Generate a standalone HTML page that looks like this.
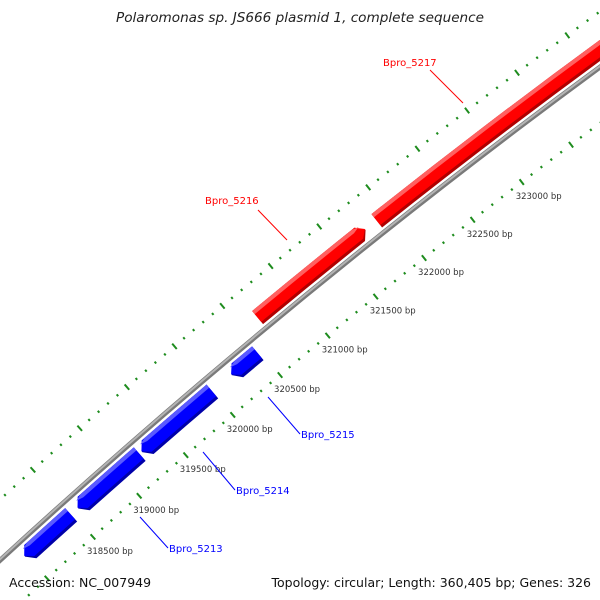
<!DOCTYPE html>
<html><head><meta charset="utf-8"><style>
html,body{margin:0;background:#fff;width:600px;height:600px;overflow:hidden}
svg{display:block}
text{font-family:"DejaVu Sans","Liberation Sans",sans-serif}
</style></head><body>
<svg id="map" width="600" height="600" viewBox="0 0 600 600" xmlns="http://www.w3.org/2000/svg" overflow="hidden">
<rect width="600" height="600" fill="#fff"/>
<g id="ticks"></g>
<g id="backbone"></g>
<g id="genes"></g>
<g id="labels"></g>
<text x="116" y="22" font-size="13" font-style="italic" fill="#222" textLength="368" lengthAdjust="spacingAndGlyphs">Polaromonas sp. JS666 plasmid 1, complete sequence</text>
<text x="9" y="587" font-size="12.5" fill="#111">Accession: NC_007949</text>
<text x="591" y="587" font-size="12.5" fill="#111" text-anchor="end">Topology: circular; Length: 360,405 bp; Genes: 326</text>
</svg>
<script>
const geneNames=["Bpro_5213a","Bpro_5213","Bpro_5214","Bpro_5215","Bpro_5216","Bpro_5217"];
const geneStarts=[317986,318564,319250,320201,320657,321888];
const geneEnds=[318488,319225,319997,320475,321773,325200];
const geneStrands=[-1,-1,-1,-1,1,1];
const tickStart=317000, tickEnd=325500, tickStep=100, majorStep=500;
const labeled=[{name:"Bpro_5217",x:383,y:66,lx1:430,ly1:70,lx2:463,ly2:103,c:"#ff0000"},
{name:"Bpro_5216",x:205,y:204,lx1:258,ly1:210,lx2:287,ly2:240,c:"#ff0000"},
{name:"Bpro_5215",x:301,y:438,lx1:268,ly1:397,lx2:300,ly2:434,c:"#0000ff"},
{name:"Bpro_5214",x:236,y:494,lx1:203,ly1:452,lx2:235,ly2:490,c:"#0000ff"},
{name:"Bpro_5213",x:169,y:552,lx1:140,ly1:517,lx2:168,ly2:548,c:"#0000ff"}];
const NS="http://www.w3.org/2000/svg";
const CX=4828, CY=5822, TOTAL=360405;
const R_BACK=7141, R_UP=7186, R_LOW=7096;
function pt(bp,r){const t=2*Math.PI*bp/TOTAL;return [CX+r*Math.sin(t),CY-r*Math.cos(t)];}
function mk(tag,attrs,parent){const e=document.createElementNS(NS,tag);for(const k in attrs)e.setAttribute(k,attrs[k]);parent.appendChild(e);return e;}
function arcD(a,b,r){const p=pt(a,r),q=pt(b,r);return `M${p[0]} ${p[1]} A${r} ${r} 0 0 1 ${q[0]} ${q[1]}`;}
const bb=document.getElementById('backbone');
let e=mk('path',{d:arcD(315000,327000,R_BACK),stroke:"#7a7a7a","stroke-width":5,fill:"none"},bb);


e=mk('path',{d:arcD(315000,327000,R_BACK+0.8),stroke:"#b4b4b4","stroke-width":2,fill:"none"},bb);


const tg=document.getElementById('ticks');
for(let bp=tickStart;bp<=tickEnd;bp+=tickStep){
  const major=bp%majorStep===0;
  for(const r of [R_UP,R_LOW]){
    const h=major?3.5:1.2;
    const a=pt(bp,r-h),b=pt(bp,r+h);
    if(Math.max(a[1],b[1])>602||Math.min(a[1],b[1])<-2) continue;
    const ln=mk('line',{x1:a[0],y1:a[1],x2:b[0],y2:b[1],stroke:"#1e8c1e","stroke-width":2},tg);
    
    
  }
  if(major){
    const p=pt(bp,R_LOW);
    if(p[0]>-40&&p[0]<545&&p[1]>0&&p[1]<575){
      const t=mk('text',{x:p[0]-6,y:p[1]+17,"font-size":"8.5",fill:"#333"},tg);
      t.textContent=bp+" bp";
      
      
    }
  }
}
const gg=document.getElementById('genes');
function geneD(s,en,strand,rin,rout,rtip){
  const ah=60;
  if(strand>0){
    const e2=Math.max(s,en-ah);
    const t=pt(en,rtip),o1=pt(s,rout),o2=pt(e2,rout),i2=pt(e2,rin),i1=pt(s,rin);
    return `M${o1[0]} ${o1[1]} A${rout} ${rout} 0 0 1 ${o2[0]} ${o2[1]} L${t[0]} ${t[1]} L${i2[0]} ${i2[1]} A${rin} ${rin} 0 0 0 ${i1[0]} ${i1[1]} Z`;
  } else {
    const s2=Math.min(en,s+ah);
    const t=pt(s,rtip),o1=pt(s2,rout),o2=pt(en,rout),i2=pt(en,rin),i1=pt(s2,rin);
    return `M${t[0]} ${t[1]} L${o1[0]} ${o1[1]} A${rout} ${rout} 0 0 1 ${o2[0]} ${o2[1]} L${i2[0]} ${i2[1]} A${rin} ${rin} 0 0 0 ${i1[0]} ${i1[1]} Z`;
  }
}
for(let i=0;i<geneNames.length;i++){
  const fwd=geneStrands[i]>0;
  const rin=fwd?7146:7118, rout=fwd?7163:7136, rtip=(rin+rout)/2;
  const cols=fwd?["#b00000","#ff0000","#ff6060"]:["#0000a8","#0000ff","#5a5aff"];
  const g=mk('g',{},gg);
  
  
  mk('path',{d:geneD(geneStarts[i],geneEnds[i],geneStrands[i],rin,rout,rtip),fill:cols[0]},g);
  mk('path',{d:geneD(geneStarts[i],geneEnds[i],geneStrands[i],rin+3,rout,rtip+1),fill:cols[1]},g);
  mk('path',{d:geneD(geneStarts[i]+(fwd?0:30),geneEnds[i]-(fwd?30:0),geneStrands[i],rout-4,rout,rout-2),fill:cols[2]},g);
}
const lg=document.getElementById('labels');
for(const L of labeled){
  const ln=mk('line',{x1:L.lx1,y1:L.ly1,x2:L.lx2,y2:L.ly2,stroke:L.c,"stroke-width":1},lg);
  
  
  const t=mk('text',{x:L.x,y:L.y,"font-size":"10",fill:L.c},lg);
  t.textContent=L.name;
  
  
}
</script>
</body></html>
